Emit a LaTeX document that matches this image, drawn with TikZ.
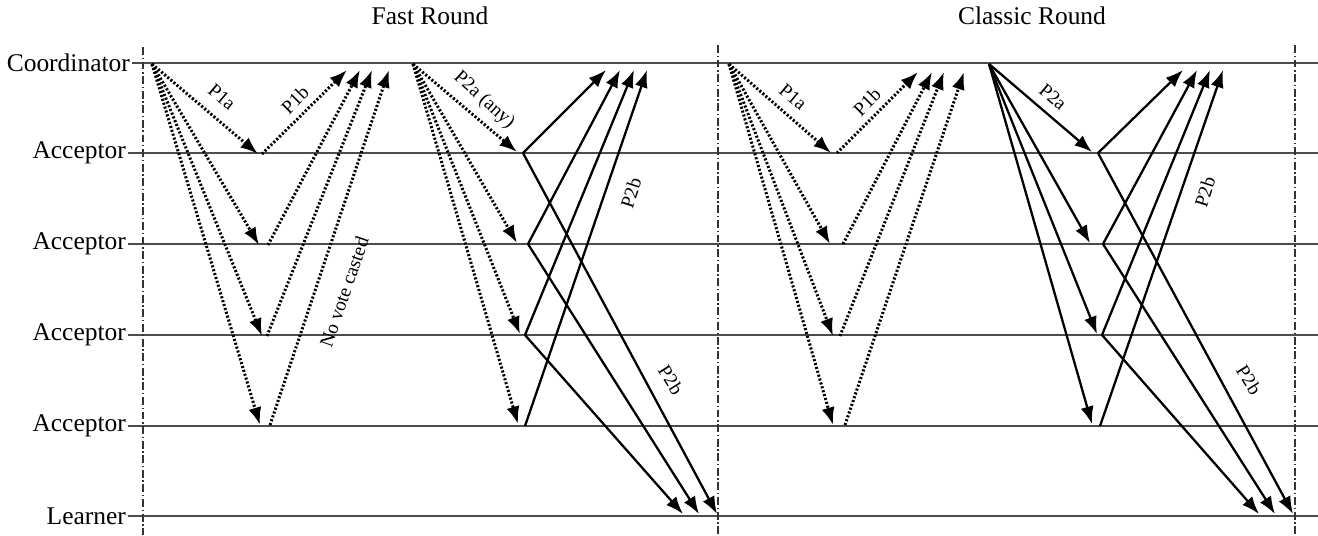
\documentclass[tikz,border=0pt]{standalone}
\usepackage{fontspec}
\setmainfont{Liberation Serif}
\usetikzlibrary{arrows.meta}

\begin{document}
\begin{tikzpicture}[
    x=0.02cm, y=-0.02cm,
    >={Latex[length=10pt,width=7.5pt]},
    actor/.style={anchor=east,inner sep=1pt,font=\fontsize{14.5}{17}\selectfont},
    title/.style={font=\fontsize{14.5}{17}\selectfont},
    msgtext/.style={inner sep=1pt,font=\fontsize{11}{13}\selectfont},
    timeline/.style={draw=black!70,line width=1pt},
    roundline/.style={draw=black!80,line width=0.7pt,dash pattern=on 4.5pt off 1.5pt on 0.8pt off 1.5pt},
    dotmsg/.style={->,line width=1.7pt,dash pattern=on 1.2pt off 1.1pt},
    solidmsg/.style={->,line width=1.3pt}
]
\useasboundingbox (0,0) rectangle (1318,535);
\coordinate (edge) at (1318,0);

% processes
\node[actor] (coord) at (132,63) {Coordinator};
\node[actor] (acc1) at (128,153) {Acceptor};
\node[actor] (acc2) at (128,244) {Acceptor};
\node[actor] (acc3) at (128,335) {Acceptor};
\node[actor] (acc4) at (128,426) {Acceptor};
\node[actor] (learn) at (128,516) {Learner};
\draw[timeline] (coord.east) -- (coord.east -| edge);
\draw[timeline] (acc1.east) -- (acc1.east -| edge);
\draw[timeline] (acc2.east) -- (acc2.east -| edge);
\draw[timeline] (acc3.east) -- (acc3.east -| edge);
\draw[timeline] (acc4.east) -- (acc4.east -| edge);
\draw[timeline] (learn.east) -- (learn.east -| edge);

% round borders
\coordinate (b1t) at (143,47);   \coordinate (b1b) at (143,535);
\coordinate (b2t) at (718,45);   \coordinate (b2b) at (718,535);
\coordinate (b3t) at (1295,45);  \coordinate (b3b) at (1295,535);
\draw[roundline] (b1t) -- (b1b);
\draw[roundline] (b2t) -- (b2b);
\draw[roundline] (b3t) -- (b3b);
\node[title] (fast) at (430,16) {Fast Round};
\node[title] (classic) at (1032,16) {Classic Round};

% fast round, phase 1
\coordinate (fc1) at (152,64);
\coordinate (fa11) at (258,154); \coordinate (fb11) at (262,154); \coordinate (fu11) at (347,70);
\coordinate (fa12) at (259,245); \coordinate (fb12) at (268,245); \coordinate (fu12) at (360,70);
\coordinate (fa13) at (262,336); \coordinate (fb13) at (267,336); \coordinate (fu13) at (372,70);
\coordinate (fa14) at (260,425); \coordinate (fb14) at (270,425); \coordinate (fu14) at (389,70);
\draw[dotmsg] (fc1) -- (fa11);
\draw[dotmsg] (fc1) -- (fa12);
\draw[dotmsg] (fc1) -- (fa13);
\draw[dotmsg] (fc1) -- (fa14);
\draw[dotmsg] (fb11) -- (fu11);
\draw[dotmsg] (fb12) -- (fu12);
\draw[dotmsg] (fb13) -- (fu13);
\draw[dotmsg] (fb14) -- (fu14);
\node[msgtext,rotate=-40] (fp1a) at (222,97) {P1a};
\node[msgtext,rotate=45] (fp1b) at (295,100) {P1b};
\node[msgtext,rotate=71] (novote) at (344,292) {No vote casted};

% fast round, phase 2
\coordinate (fc2) at (413,64);
\coordinate (fa21) at (517,152); \coordinate (fb21) at (523,153); \coordinate (fu21) at (606,70);
\coordinate (fa22) at (517,243); \coordinate (fb22) at (528,244); \coordinate (fu22) at (620,70);
\coordinate (fa23) at (520,334); \coordinate (fb23) at (525,335); \coordinate (fu23) at (634,70);
\coordinate (fa24) at (518,424); \coordinate (fb24) at (525,426); \coordinate (fu24) at (647,70);
\coordinate (fl1) at (717,514); \coordinate (fl2) at (699,514); \coordinate (fl3) at (683,514);
\draw[dotmsg] (fc2) -- (fa21);
\draw[dotmsg] (fc2) -- (fa22);
\draw[dotmsg] (fc2) -- (fa23);
\draw[dotmsg] (fc2) -- (fa24);
\draw[solidmsg] (fb21) -- (fu21);
\draw[solidmsg] (fb22) -- (fu22);
\draw[solidmsg] (fb23) -- (fu23);
\draw[solidmsg] (fb24) -- (fu24);
\draw[solidmsg] (fb21) -- (fl1);
\draw[solidmsg] (fb22) -- (fl2);
\draw[solidmsg] (fb23) -- (fl3);
\node[msgtext,rotate=-42] (fp2a) at (484,100) {P2a (any)};
\node[msgtext,rotate=72] (fp2b) at (631,193) {P2b};
\node[msgtext,rotate=-58] (fp2bl) at (671,380) {P2b};

% classic round, phase 1
\coordinate (cc1) at (729,64);
\coordinate (ca11) at (831,153); \coordinate (cb11) at (837,153); \coordinate (cu11) at (918,72);
\coordinate (ca12) at (830,244); \coordinate (cb12) at (843,244); \coordinate (cu12) at (932,72);
\coordinate (ca13) at (833,336); \coordinate (cb13) at (840,336); \coordinate (cu13) at (944,72);
\coordinate (ca14) at (833,425); \coordinate (cb14) at (845,425); \coordinate (cu14) at (964,72);
\draw[dotmsg] (cc1) -- (ca11);
\draw[dotmsg] (cc1) -- (ca12);
\draw[dotmsg] (cc1) -- (ca13);
\draw[dotmsg] (cc1) -- (ca14);
\draw[dotmsg] (cb11) -- (cu11);
\draw[dotmsg] (cb12) -- (cu12);
\draw[dotmsg] (cb13) -- (cu13);
\draw[dotmsg] (cb14) -- (cu14);
\node[msgtext,rotate=-40] (cp1a) at (793,97) {P1a};
\node[msgtext,rotate=45] (cp1b) at (867,102) {P1b};

% classic round, phase 2
\coordinate (cc2) at (989,64);
\coordinate (ca21) at (1092,152); \coordinate (cb21) at (1098,153); \coordinate (cu21) at (1183,70);
\coordinate (ca22) at (1090,243); \coordinate (cb22) at (1103,244); \coordinate (cu22) at (1197,70);
\coordinate (ca23) at (1097,334); \coordinate (cb23) at (1102,335); \coordinate (cu23) at (1210,70);
\coordinate (ca24) at (1092,424); \coordinate (cb24) at (1100,426); \coordinate (cu24) at (1223,70);
\coordinate (cl1) at (1293,514); \coordinate (cl2) at (1275,514); \coordinate (cl3) at (1259,514);
\draw[solidmsg] (cc2) -- (ca21);
\draw[solidmsg] (cc2) -- (ca22);
\draw[solidmsg] (cc2) -- (ca23);
\draw[solidmsg] (cc2) -- (ca24);
\draw[solidmsg] (cb21) -- (cu21);
\draw[solidmsg] (cb22) -- (cu22);
\draw[solidmsg] (cb23) -- (cu23);
\draw[solidmsg] (cb24) -- (cu24);
\draw[solidmsg] (cb21) -- (cl1);
\draw[solidmsg] (cb22) -- (cl2);
\draw[solidmsg] (cb23) -- (cl3);
\node[msgtext,rotate=-40] (cp2a) at (1053,97) {P2a};
\node[msgtext,rotate=72] (cp2b) at (1205,192) {P2b};
\node[msgtext,rotate=-58] (cp2bl) at (1249,380) {P2b};
\end{tikzpicture}
\end{document}
